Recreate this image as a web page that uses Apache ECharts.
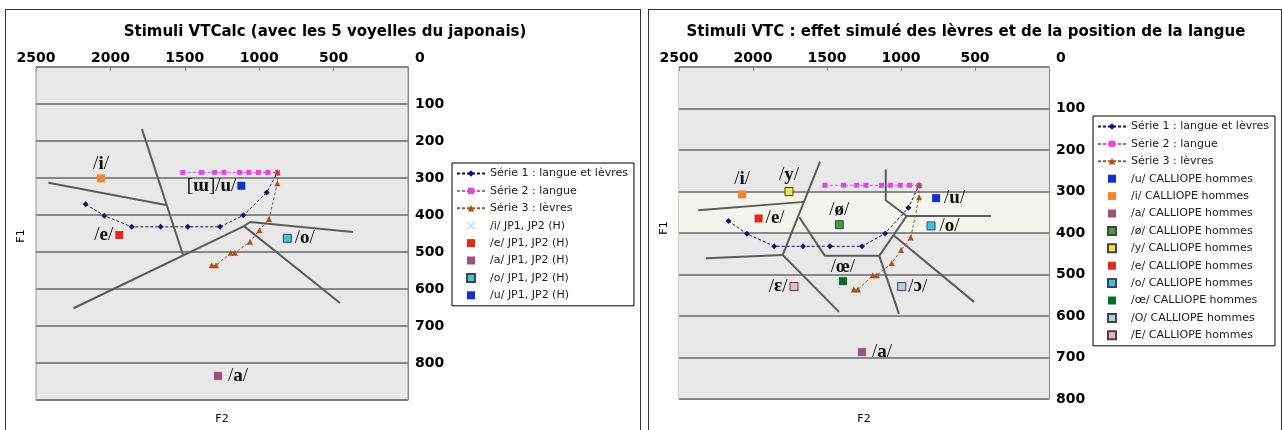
<!DOCTYPE html>
<html>
<head>
<meta charset="utf-8">
<script src="https://cdn.jsdelivr.net/npm/echarts@6/dist/echarts.min.js"></script>
<style>
body { margin: 0; background: #fff; }
.frame { position: absolute; top: 9px; height: 440px; border: 1px solid #333; }
.chart { position: absolute; top: 0; width: 641px; height: 430px; }
</style>
</head>
<body>
<div class="frame" style="left:5px;width:634px"></div>
<div class="frame" style="left:648px;width:632px"></div>
<div id="left" class="chart" style="left:0"></div>
<div id="right" class="chart" style="left:641px"></div>
<script>
// trajectoires simulees (F2, F1) - les memes dans les deux graphiques
var serie1F2 = [2166, 2041, 1857, 1662, 1480, 1263, 1107, 950, 878];
var serie1F1 = [371, 402, 432, 432, 432, 432, 401, 339, 285];
var serie2F2 = [1514, 1387, 1300, 1237, 1131, 1070, 1005, 942, 878];
var serie2F1 = [285, 285, 285, 285, 285, 285, 285, 285, 285];
var serie3F2 = [878, 878, 934, 999, 1062, 1163, 1191, 1290, 1319];
var serie3F1 = [285, 314, 411, 441, 472, 502, 502, 536, 536];
var serieNames = ['Série 1 : langue et lèvres', 'Série 2 : langue', 'Série 3 : lèvres'];

// voyelles du japonais (graphique de gauche)
var jpNames = ['/i/ JP1, JP2 (H)', '/e/ JP1, JP2 (H)', '/a/ JP1, JP2 (H)', '/o/ JP1, JP2 (H)', '/u/ JP1, JP2 (H)'];
var jpLabels = ['/i/', '/e/', '/a/', '/o/', '[ɯ]/u/'];
var jpF2 = [2063, 1940, 1277, 811, 1120];
var jpF1 = [301, 454, 835, 463, 321];

// voyelles CALLIOPE hommes (graphique de droite)
var callNames = ['/u/ CALLIOPE hommes', '/i/ CALLIOPE hommes', '/a/ CALLIOPE hommes', '/ø/ CALLIOPE hommes',
    '/y/ CALLIOPE hommes', '/e/ CALLIOPE hommes', '/o/ CALLIOPE hommes', '/œ/ CALLIOPE hommes',
    '/O/ CALLIOPE hommes', '/E/ CALLIOPE hommes'];
var callLabels = ['/u/', '/i/', '/a/', '/ø/', '/y/', '/e/', '/o/', '/œ/', '/ɔ/', '/ɛ/'];
var callF2 = [763, 2074, 1264, 1417, 1757, 1962, 797, 1392, 995, 1723];
var callF1 = [316, 307, 687, 380, 300, 365, 383, 516, 529, 529];

// frontieres tracees a la main (F2, F1)
var leftBorders = [
    [[1788, 168], [1512, 508]],
    [[2417, 313], [1626, 373]],
    [[2248, 652], [1102, 430], [457, 638]],
    [[1102, 430], [1062, 419], [370, 446]]
];
var rightBorders = [
    [[1547, 228], [1799, 453], [1419, 590]],
    [[2370, 345], [1655, 325]],
    [[2318, 461], [1799, 453]],
    [[1687, 362], [1514, 455], [1147, 455], [962, 359], [392, 359]],
    [[1147, 455], [1014, 595]],
    [[1103, 247], [1103, 321], [962, 359]],
    [[1052, 405], [507, 566]]
];

function pairs(xs, ys) {
    return xs.map(function (x, i) { return [x, ys[i]]; });
}

// "/e/" -> barres en romain, lettre en gras
function ipa(txt) {
    var out = '';
    for (var i = 0; i < txt.length; i++) {
        var c = txt[i];
        out += (c === '/' || c === '[' || c === ']') ? '{s|' + c + '}' : '{b|' + c + '}';
    }
    return out;
}

var squareIcon = 'path://M0,0L10,0L10,10L0,10Z';
var crossIcon = 'path://M1,0L5,4L9,0L10,1L6,5L10,9L9,10L5,6L1,10L0,9L4,5L0,1Z';

function panel(divId, cfg) {
    var myChart = echarts.init(document.getElementById(divId), null, { renderer: 'canvas' });
    var series = [];

    cfg.borders.forEach(function (b) {
        series.push({
            type: 'line', data: b, symbol: 'none', silent: true, z: 3,
            lineStyle: { color: '#5c5c5c', width: 2 }
        });
    });

    var traj = [pairs(serie1F2, serie1F1), pairs(serie2F2, serie2F1), pairs(serie3F2, serie3F1)];
    var trajColors = ['#14146e', '#e048e0', '#a8521e'];
    var trajSymbols = ['diamond', 'rect', 'triangle'];
    var trajSizes = [6, 5, 6];
    for (var i = 0; i < 3; i++) {
        series.push({
            name: serieNames[i], type: 'line', data: traj[i], z: 4,
            symbol: trajSymbols[i], symbolSize: trajSizes[i],
            itemStyle: { color: trajColors[i] },
            lineStyle: { color: trajColors[i], width: 1, type: [3, 2] }
        });
    }

    cfg.names.forEach(function (n, k) {
        series.push({
            name: n, type: 'scatter', z: 5,
            data: [[cfg.f2[k], cfg.f1[k]]],
            symbol: 'rect', symbolSize: 8,
            itemStyle: {
                color: cfg.colors[k], opacity: 1,
                borderColor: cfg.edges[k] || cfg.colors[k],
                borderWidth: cfg.edges[k] ? 1 : 0
            },
            label: {
                show: true, position: cfg.pos[k], distance: cfg.dist[k],
                formatter: ipa(cfg.labels[k]),
                rich: {
                    s: { fontFamily: 'Liberation Serif, DejaVu Serif', fontSize: 19, color: '#111' },
                    b: { fontFamily: 'Liberation Serif, DejaVu Serif', fontSize: 19, fontWeight: 'bold', color: '#111' }
                }
            }
        });
    });

    var legendData = serieNames.slice();
    cfg.names.forEach(function (n) {
        legendData.push(cfg.legendOverride[n] ? Object.assign({ name: n }, cfg.legendOverride[n]) : { name: n, icon: squareIcon });
    });

    var gx = cfg.grid.left, gy = cfg.grid.top, gw = cfg.grid.width, gh = cfg.grid.height;

    var option = {
        animation: false,
        graphic: [
            { type: 'text', x: cfg.titleX, y: 32, style: { text: cfg.title, fill: '#000', font: 'bold 15px "DejaVu Sans"', align: 'center', verticalAlign: 'middle' } },
            { type: 'text', x: gx + gw / 2, y: 419, style: { text: 'F2', fill: '#000', font: '11px "DejaVu Sans"', align: 'center', verticalAlign: 'middle' } },
            { type: 'text', x: cfg.f1X, y: cfg.f1Y, rotation: Math.PI / 2, style: { text: 'F1', fill: '#000', font: '11px "DejaVu Sans"', align: 'center', verticalAlign: 'middle' } }
        ],
        grid: {
            left: gx, top: gy, width: gw, height: gh, show: true,
            backgroundColor: '#e8e8e8', borderColor: '#9a9a9a', borderWidth: 1
        },
        legend: {
            orient: 'vertical', left: cfg.legendLeft, top: cfg.legendTop,
            selectedMode: false,
            backgroundColor: '#fff', borderColor: '#000', borderWidth: 1, borderRadius: 0,
            padding: [5, 6, 5, 4], itemWidth: 28, itemHeight: 8, itemGap: 6.4,
            textStyle: { fontFamily: 'DejaVu Sans', fontSize: 11, color: '#222' },
            data: legendData
        },
        xAxis: {
            type: 'value', position: 'top', inverse: true,
            min: 0, max: 2500, interval: 500,
            axisLine: { show: true, lineStyle: { color: '#8a8a8a' } },
            axisTick: { show: true, inside: true, length: 4, lineStyle: { color: '#8a8a8a' } },
            axisLabel: {
                margin: 2, showMinLabel: false,
                fontFamily: 'DejaVu Sans', fontWeight: 'bold', fontSize: 14, color: '#000',
                formatter: function (v) { return String(v); }
            },
            splitLine: { show: false }
        },
        yAxis: {
            type: 'value', position: 'right', inverse: true,
            min: 0, max: cfg.yMax, interval: 100,
            axisLine: { show: true, lineStyle: { color: '#8a8a8a' } },
            axisTick: { show: false },
            axisLabel: {
                margin: 7, align: 'left', showMaxLabel: cfg.showYMax,
                fontFamily: 'DejaVu Sans', fontWeight: 'bold', fontSize: 14, color: '#000',
                formatter: function (v) { return v === 0 ? '{z|0}' : String(v); },
                rich: { z: { fontFamily: 'DejaVu Sans', fontWeight: 'bold', fontSize: 14, color: '#000', padding: [0, 0, 18, 0] } }
            },
            splitLine: { show: true, lineStyle: { color: '#6a6a6a', width: 1.5 } },
            splitArea: cfg.bands ? { show: true, areaStyle: { color: cfg.bands } } : { show: false }
        },
        series: series
    };

    myChart.setOption(option);
    window.addEventListener('resize', myChart.resize);
}

panel('left', {
    title: 'Stimuli VTCalc (avec les 5 voyelles du japonais)',
    titleX: 325, f1X: 21, f1Y: 236,
    grid: { left: 36, top: 67, width: 372, height: 333 },
    yMax: 900, showYMax: false, bands: null,
    legendLeft: 452, legendTop: 163,
    borders: leftBorders,
    names: jpNames, labels: jpLabels, f2: jpF2, f1: jpF1,
    colors: ['#f5842a', '#e02a1a', '#a04f7c', '#3ec3e6', '#1230d0'],
    edges: [null, null, null, '#444', null],
    pos: ['top', 'left', 'right', 'right', 'left'],
    dist: [1, 2, 6, 3, 1],
    legendOverride: {
        '/i/ JP1, JP2 (H)': { icon: crossIcon, itemStyle: { color: '#a6dcea', borderWidth: 0 } }
    }
});

panel('right', {
    title: 'Stimuli VTC : effet simulé des lèvres et de la position de la langue',
    titleX: 325, f1X: 23, f1Y: 228,
    grid: { left: 38, top: 67, width: 370, height: 332 },
    yMax: 800, showYMax: true,
    bands: ['#e8e8e8', '#e8e8e8', '#e8e8e8', '#f4f4ef', '#e8e8e8', '#e8e8e8', '#e8e8e8', '#e8e8e8'],
    legendLeft: 452, legendTop: 116,
    borders: rightBorders,
    names: callNames, labels: callLabels, f2: callF2, f1: callF1,
    colors: ['#1230d0', '#f5842a', '#a04f7c', '#3fa040', '#f0e64a', '#e02a1a', '#3ec3e6', '#0b6e24', '#b0cdee', '#f2b4cc'],
    edges: [null, null, null, '#444', '#444', null, '#444', null, '#444', '#444'],
    pos: ['right', 'top', 'right', 'top', 'top', 'right', 'right', 'top', 'right', 'left'],
    dist: [4, 2, 6, 1, 2, 3, 4, 1, 2, 2],
    legendOverride: {}
});
</script>
</body>
</html>
